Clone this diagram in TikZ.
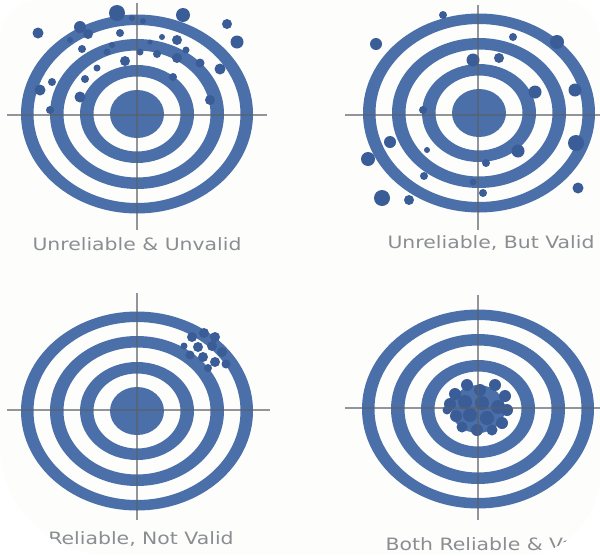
\documentclass[tikz,border=0pt]{standalone}
\usepackage{fontspec}
\setmainfont{DejaVu Sans}
\definecolor{ringblue}{HTML}{4A6FA9}
\definecolor{dotblue}{HTML}{3A5D98}
\definecolor{hairgray}{HTML}{5A606A}
\definecolor{labelgray}{HTML}{8A8D92}
\definecolor{paper}{HTML}{FDFDFB}
\tikzset{
  ringfill/.style={fill=ringblue, even odd rule},
  shot/.style={fill=dotblue},
  hair/.style={draw=hairgray, line width=1.4pt, opacity=0.65},
  caption/.style={text=labelgray, font=\fontsize{17pt}{20pt}\selectfont, anchor=base, inner sep=0pt}
}
\newcommand\mytarget[2]{%
  \fill[ringfill] (#1,#2) ellipse [x radius=116, y radius=99.5]
                  (#1,#2) ellipse [x radius=103.5, y radius=89]
                  (#1,#2) ellipse [x radius=87, y radius=75]
                  (#1,#2) ellipse [x radius=73.5, y radius=63.5]
                  (#1,#2) ellipse [x radius=57, y radius=49]
                  (#1,#2) ellipse [x radius=43.5, y radius=37.5]
                  (#1,#2) ellipse [x radius=27, y radius=24];}
\begin{document}
\begin{tikzpicture}[x=1pt, y=-1pt]
\useasboundingbox (0,0) rectangle (600,555);
\fill[white] (0,0) rectangle (600,555);
\begin{scope}
\clip (40,0) -- (560,0) .. controls (582,0) and (600,18) .. (600,40)
      -- (600,475) .. controls (600,519) and (564,555) .. (520,555)
      -- (110,555) .. controls (49,555) and (0,506) .. (0,445)
      -- (0,40) .. controls (0,18) and (18,0) .. (40,0) -- cycle;
\fill[paper] (0,0) rectangle (600,555);

% targets
\mytarget{137}{114}
\mytarget{479}{113}
\mytarget{137}{411}
\mytarget{478}{409}

% shots: unreliable & unvalid
\foreach \x/\y/\r in {38/33/5.5, 80/27/6, 88/34/5, 117/13/8, 120/33/4, 143/21/3,
  162/37/3, 183/15/7, 177/40/5, 227/24/5, 237/42/6.5,
  82/49/4, 107/52/3.5, 125/61/5, 140/52/3.5, 157/54/4, 177/58/5, 186/50/3.5,
  200/63/4.5, 220/69/5.5, 97/68/3.5, 85/79/4, 52/82/4, 40/90/5.5, 80/97/5.5,
  173/77/4, 210/100/5, 50/110/4, 112/45/3, 150/42/2.5, 132/18/3, 70/40/3}
  \fill[shot] (\x,\y) circle (\r);

% shots: unreliable, but valid
\foreach \x/\y/\r in {376/44/6, 443/15/4, 513/37/4, 557/42/7, 473/60/6.5, 499/58/5,
  535/92/6.5, 575/90/6.5, 423/110/4, 390/142/6, 368/159/7, 427/150/3,
  518/151/6.5, 576/143/8, 486/163/4, 424/176/4, 473/182/3.5, 483/193/4,
  382/198/8, 409/200/5, 578/188/5.5}
  \fill[shot] (\x,\y) circle (\r);

% shots: reliable, not valid
\foreach \x/\y/\r in {192/337/5, 204/333/5, 215/337/5, 198/347/5, 212/346/5,
  222/352/5, 190/355/4.5, 203/357/5, 215/362/5, 226/364/4.5, 208/368/4, 184/346/3.5}
  \fill[shot] (\x,\y) circle (\r);

% shots: both reliable & valid
\foreach \x/\y/\r in {467/385/6, 495/385/6, 480/390/6, 455/394/6, 505/396/6,
  450/404/6, 465/402/7, 482/403/7, 498/407/7, 507/410/6, 456/416/6, 470/415/7,
  487/418/7, 502/423/6, 462/427/5.5, 477/430/6, 492/430/5.5, 447/410/4.5}
  \fill[shot] (\x,\y) circle (\r);

% crosshairs
\draw[hair] (7,115) -- (267,115);   \draw[hair] (137,3) -- (137,230);
\draw[hair] (345,115) -- (600,115); \draw[hair] (478,5) -- (478,230);
\draw[hair] (7,410) -- (270,410);   \draw[hair] (137,293) -- (137,520);
\draw[hair] (345,408) -- (600,408); \draw[hair] (478,295) -- (478,520);

% captions
\node[caption] (c1) at (137,250) {\scalebox{1.2}[1]{Unreliable \& Unvalid}};
\node[caption] (c2) at (491,248) {\scalebox{1.2}[1]{Unreliable, But Valid}};
\node[caption] (c3) at (141,544) {\scalebox{1.2}[1]{Reliable, Not Valid}};
\node[caption] (c4) at (492,550) {\scalebox{1.2}[1]{Both Reliable \& Valid}};
\end{scope}
\end{tikzpicture}
\end{document}
